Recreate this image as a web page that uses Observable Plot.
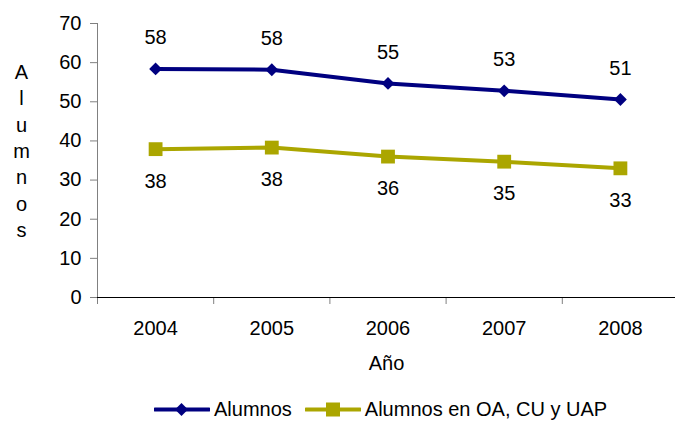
<!DOCTYPE html>
<html>
<head>
<meta charset="utf-8">
<script src="https://cdn.jsdelivr.net/npm/d3@7"></script>
<script src="https://cdn.jsdelivr.net/npm/@observablehq/plot@0.6"></script>
<style>
  html, body { margin: 0; padding: 0; background: white; }
  body { width: 675px; height: 421px; overflow: hidden; font-family: "Liberation Sans", Arial, sans-serif; }
  #legend { height: 36px; display: flex; justify-content: flex-start; align-items: flex-start; font-size: 20px; color: black; padding-left: 154px; }
  .item { display: flex; align-items: center; height: 22px; margin-top: 13px; }
  .item svg { margin-right: 4px; }
  .item + .item { margin-left: 13px; }
</style>
</head>
<body>
<div id="chart"></div>
<div id="legend"></div>
<script>
const years = [2004, 2005, 2006, 2007, 2008];
const alumnos = [58.4, 58.2, 54.7, 52.8, 50.6];
const alumnosOA = [37.9, 38.3, 36.0, 34.7, 33.0];
const seriesNames = ["Alumnos", "Alumnos en OA, CU y UAP"];
const seriesColors = ["#000080", "#aba600"];
const yTicks = [0, 10, 20, 30, 40, 50, 60, 70];
const yTitle = "Alumnos";
const xTitle = "Año";

const boundaries = years.map(y => y - 0.5);
const rows = [
  ...years.map((year, i) => ({year, value: alumnos[i], series: seriesNames[0]})),
  ...years.map((year, i) => ({year, value: alumnosOA[i], series: seriesNames[1]}))
];
const rowsA = rows.filter(d => d.series === seriesNames[0]);
const rowsB = rows.filter(d => d.series === seriesNames[1]);

const chart = Plot.plot({
  width: 675,
  height: 385,
  marginLeft: 97,
  marginRight: 0,
  marginTop: 23,
  marginBottom: 88,
  style: {fontFamily: '"Liberation Sans", Arial, sans-serif', fontSize: "20px", color: "black", background: "white", overflow: "visible"},
  x: {type: "linear", domain: [years[0] - 0.5, years[years.length - 1] + 0.5], range: [97, 678]},
  y: {domain: [0, 70]},
  color: {domain: seriesNames, range: seriesColors},
  marks: [
    Plot.axisY({ticks: yTicks, tickSize: 7, tickPadding: 9, tickFormat: d => String(d), label: null, stroke: "#808080", fill: "black", fontSize: 20}),
    Plot.ruleX([boundaries[0]], {y1: yTicks[0], y2: yTicks[yTicks.length - 1], stroke: "#808080"}),
    Plot.axisX({ticks: boundaries, tickSize: 7, tickFormat: () => "", label: null, stroke: "#808080"}),
    Plot.axisX({ticks: years, tickSize: 0, tickPadding: 23, tickFormat: d => String(d), label: null, fill: "black", fontSize: 20}),
    Plot.ruleY([0], {stroke: "black", strokeWidth: 1.2}),
    Plot.text([yTitle.split("").join("\n")], {frameAnchor: "left", dx: -76, dy: -11, textAnchor: "middle", lineAnchor: "middle", lineHeight: 1.323, fontSize: 20, fill: "black"}),
    Plot.text([xTitle], {frameAnchor: "bottom", lineAnchor: "middle", dy: 66, fontSize: 20, fill: "black"}),
    Plot.line(rows, {x: "year", y: "value", z: "series", stroke: "series", strokeWidth: 4, strokeLinejoin: "round"}),
    Plot.dot(rowsA, {x: "year", y: "value", symbol: "diamond2", r: 5.8, fill: seriesColors[0], stroke: "none"}),
    Plot.dot(rowsB, {x: "year", y: "value", symbol: "square", r: 7.8, fill: seriesColors[1], stroke: "none"}),
    Plot.text(rowsA, {x: "year", y: "value", text: d => String(Math.round(d.value)), dy: -31, fontSize: 20, fill: "black"}),
    Plot.text(rowsB, {x: "year", y: "value", text: d => String(Math.round(d.value)), dy: 32, fontSize: 20, fill: "black"})
  ]
});
document.getElementById("chart").appendChild(chart);

const legend = document.getElementById("legend");
seriesNames.forEach((name, i) => {
  const item = document.createElement("div");
  item.className = "item";
  const marker = i === 0
    ? `<path d="M27.5,4 L34,10.5 L27.5,17 L21,10.5 Z" fill="${seriesColors[i]}"/>`
    : `<rect x="21" y="3.5" width="14" height="14" fill="${seriesColors[i]}"/>`;
  item.innerHTML = `<svg width="56" height="21"><line x1="1" y1="10.5" x2="55" y2="10.5" stroke="${seriesColors[i]}" stroke-width="4" stroke-linecap="round"/>${marker}</svg><span>${name}</span>`;
  legend.appendChild(item);
});
</script>
</body>
</html>
